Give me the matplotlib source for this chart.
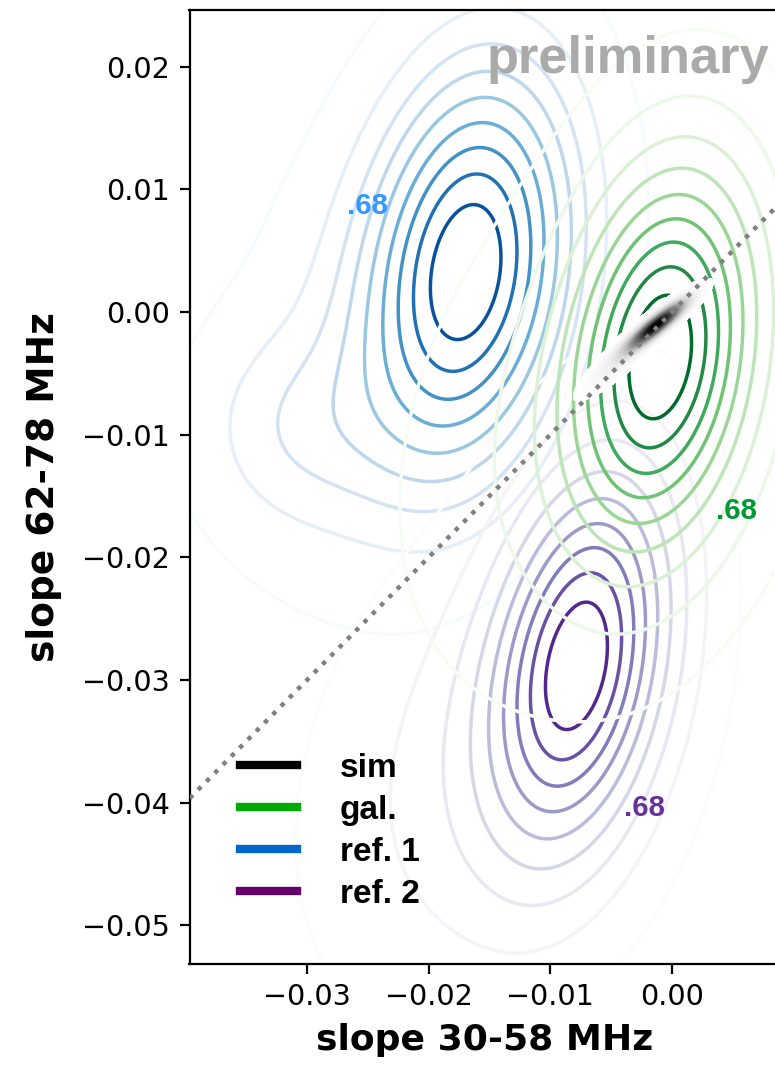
import numpy as np
import matplotlib
matplotlib.use("Agg")
import matplotlib.pyplot as plt
from matplotlib.colors import Normalize
from matplotlib.lines import Line2D

# Gaussian-mixture summaries of the posteriors:
# weight, centre (x, y), widths (x, y) and correlation of each component
ref1_w = [0.66, 0.28, 0.06]
ref1_mx = [-0.0167, -0.0208, -0.0310]
ref1_my = [0.0038, -0.0018, -0.0095]
ref1_sx = [0.0053, 0.0092, 0.0055]
ref1_sy = [0.0103, 0.0130, 0.0055]
ref1_rho = [0.20, 0.30, 0.00]

gal_w = [0.70, 0.30]
gal_mx = [-0.0008, -0.0051]
gal_my = [-0.0033, -0.0088]
gal_sx = [0.0048, 0.0095]
gal_sy = [0.0096, 0.0130]
gal_rho = [0.22, 0.30]

ref2_w = [0.70, 0.30]
ref2_mx = [-0.0076, -0.0142]
ref2_my = [-0.0283, -0.0362]
ref2_sx = [0.0047, 0.0092]
ref2_sy = [0.0098, 0.0125]
ref2_rho = [0.30, 0.30]

sim_w = [0.78, 0.22]
sim_mx = [-0.0012, -0.0038]
sim_my = [-0.0010, -0.0034]
sim_sx = [0.0016, 0.0020]
sim_sy = [0.0013, 0.0018]
sim_rho = [0.90, 0.90]

legend_labels = ["sim", "gal.", "ref. 1", "ref. 2"]
legend_colors = ["#000000", "#00aa00", "#0066cc", "#660066"]

x_ticks = [-0.03, -0.02, -0.01, 0.00]
y_ticks = [-0.05, -0.04, -0.03, -0.02, -0.01, 0.00, 0.01, 0.02]

# iso-proportion levels, as in a default bivariate KDE plot
level_props = np.linspace(0.05, 1.0, 10)


def mixture(X, Y, w, mx, my, sx, sy, rho):
    Z = np.zeros_like(X)
    for wi, mxi, myi, sxi, syi, ri in zip(w, mx, my, sx, sy, rho):
        dx = (X - mxi) / sxi
        dy = (Y - myi) / syi
        q = (dx * dx - 2 * ri * dx * dy + dy * dy) / (1 - ri ** 2)
        Z += wi * np.exp(-0.5 * q) / (2 * np.pi * sxi * syi * np.sqrt(1 - ri ** 2))
    return Z


def iso_levels(Z, props):
    vals = np.sort(Z.ravel())[::-1]
    cum = np.cumsum(vals) / vals.sum()
    idx = np.searchsorted(cum, 1 - np.asarray(props))
    return np.take(vals, idx, mode="clip")


fig = plt.figure(figsize=(3.875, 5.33), dpi=200)
ax = fig.add_axes([189.5 / 775, 1 - 964 / 1066, 594.5 / 775, 954.5 / 1066])

gx = np.linspace(-0.08, 0.055, 600)
gy = np.linspace(-0.11, 0.07, 760)
X, Y = np.meshgrid(gx, gy)


def kde_lines(params, cmap, z):
    Z = mixture(X, Y, *params)
    lev = iso_levels(Z, level_props)
    norm = Normalize(lev[0], lev[-1])
    ax.contour(X, Y, Z, levels=lev[:-1], cmap=cmap, norm=norm,
               linewidths=1.25, zorder=z)


kde_lines((ref1_w, ref1_mx, ref1_my, ref1_sx, ref1_sy, ref1_rho), "Blues", 1)
kde_lines((ref2_w, ref2_mx, ref2_my, ref2_sx, ref2_sy, ref2_rho), "Purples", 2)
kde_lines((gal_w, gal_mx, gal_my, gal_sx, gal_sy, gal_rho), "Greens", 3)

# simulation: filled density on a fine grid
sx_ = np.linspace(-0.014, 0.006, 420)
sy_ = np.linspace(-0.014, 0.006, 420)
SX, SY = np.meshgrid(sx_, sy_)
ZS = mixture(SX, SY, sim_w, sim_mx, sim_my, sim_sx, sim_sy, sim_rho)
slev = np.unique(iso_levels(ZS, np.linspace(0.02, 1.0, 50)))
ax.contourf(SX, SY, ZS, levels=slev, cmap="Greys", zorder=4)

# one-to-one line
lims = np.array([-0.06, 0.04])
ax.plot(lims, lims, ls=":", color="#808080", lw=1.6, zorder=5)

ax.set_xlim(-0.03965, 0.0092)
ax.set_ylim(-0.05314, 0.02465)
ax.set_xticks(x_ticks)
ax.set_yticks(y_ticks)
ax.tick_params(labelsize=10.3)

ax.set_xlabel("slope 30-58 MHz", fontsize=13, fontweight="bold")
ax.set_ylabel("slope 62-78 MHz", fontsize=13.5, fontweight="bold")
ax.xaxis.set_label_coords(0.497, -0.062)
ax.yaxis.set_label_coords(-0.2145, 0.5)

lab_font = dict(family="Liberation Sans", weight="bold", size=10.6)
ax.text(-0.02502, 0.00799, ".68", color="#3399ff", ha="center", va="baseline", zorder=6, **lab_font)
ax.text(0.0053, -0.01687, ".68", color="#009933", ha="center", va="baseline", zorder=6, **lab_font)
ax.text(-0.0023, -0.04108, ".68", color="#663399", ha="center", va="baseline", zorder=6, **lab_font)

ax.text(0.5004, 0.9335, "preliminary", transform=ax.transAxes, color="#aaaaaa",
        family="Liberation Sans", weight="bold", size=18.9, ha="left", va="baseline", zorder=7)

handles = [Line2D([], [], color=c, lw=3) for c in legend_colors]
ax.legend(handles, legend_labels, loc="upper left", bbox_to_anchor=(0.085, 0.2215),
          frameon=False, prop=dict(family="Liberation Sans", weight="bold", size=12),
          handlelength=1.7, handletextpad=1.3, labelspacing=0.33,
          borderpad=0, borderaxespad=0)

fig.savefig("out.png", dpi=200)
